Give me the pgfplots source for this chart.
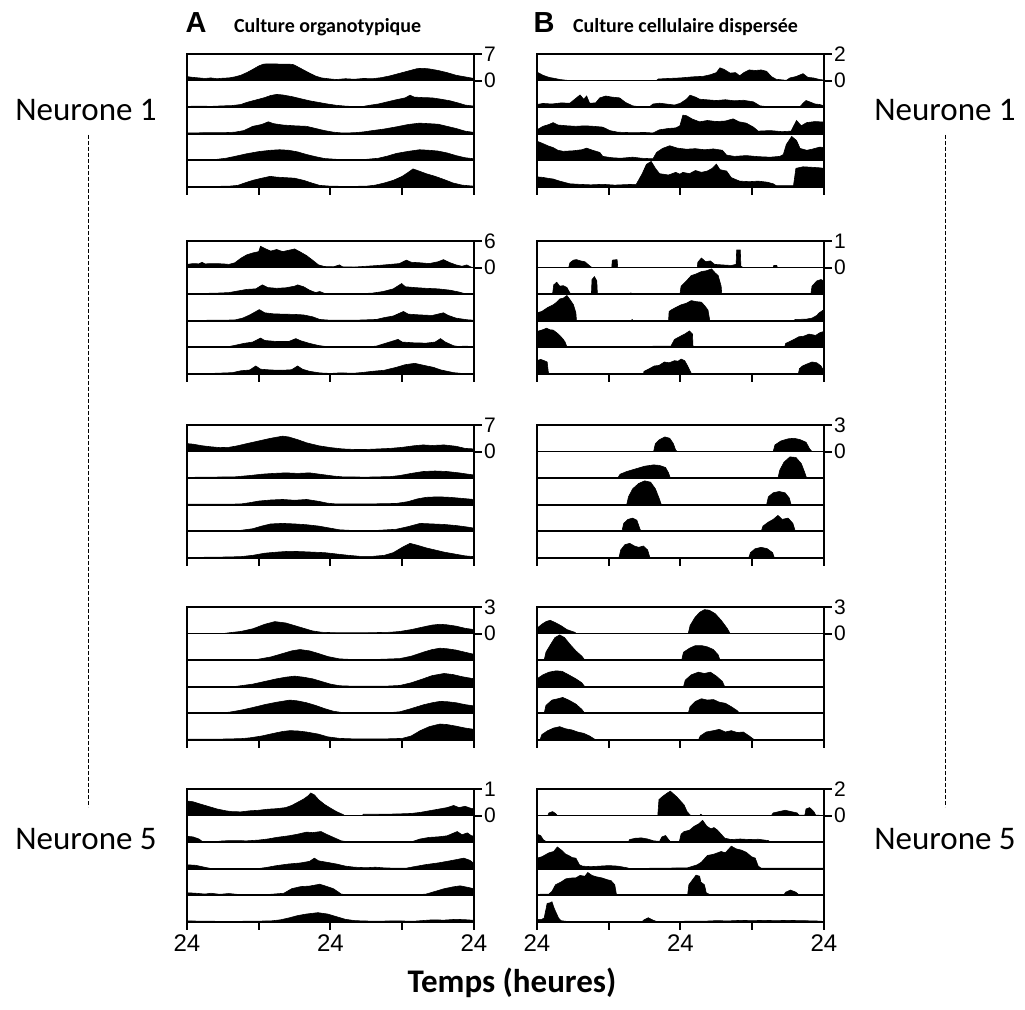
\documentclass[border=0pt]{standalone}
\usepackage{pgfplots}
\pgfplotsset{compat=1.18}
\usepackage{fontspec}
\setmainfont{Carlito}
\setsansfont{Liberation Sans}
\newcommand{\trace}[2]{\addplot[fill=black, draw=black, line width=0.3pt, y filter/.expression={y+#1}] coordinates {#2};}
\newcommand{\baselines}{%
\addplot[black, line width=0.9pt] coordinates {(0,1)(48,1)};
\addplot[black, line width=0.9pt] coordinates {(0,2)(48,2)};
\addplot[black, line width=0.9pt] coordinates {(0,3)(48,3)};
\addplot[black, line width=0.9pt] coordinates {(0,4)(48,4)};}
\pgfplotsset{
  panel/.style={
    scale only axis, width=143.5pt, height=66.5pt,
    xmin=0, xmax=48, ymin=0, ymax=5,
    axis line style={line width=1pt},
    xtick={0,12,24,36,48}, xticklabels={},
    xtick pos=left, ytick pos=right,
    ytick={4,5}, yticklabel pos=right,
    tick align=outside, major tick length=4pt,
    tick style={line width=1pt, black},
    tick label style={font=\sffamily\fontsize{10.5}{10.5}\selectfont},
    yticklabel style={xshift=-2.5pt},
    xticklabel style={yshift=1pt},
    /pgf/number format/assume math mode=true,
  },
  bottompanel/.style={panel, xticklabels={24,,24,,24},
    xticklabel style={font=\sffamily\fontsize{12}{12}\selectfont}},
}
\begin{document}
\begin{tikzpicture}
\begin{scope}[x=0.5pt, y=0.5pt]
\useasboundingbox (0,0) rectangle (1025,1010);
\end{scope}
% ---------------- Column A ----------------
\begin{axis}[panel, at={(93.5pt,411.5pt)}, anchor=south west, yticklabels={0,7}]
\trace{4}{(0,0)(0,0.15)(1,0.12)(2,0.1)(3,0.08)(4,0.1)(5,0.07)(6,0.09)(7,0.1)(8,0.14)(9,0.2)(10,0.3)(11,0.42)(12,0.55)(12.8,0.62)(14,0.63)(15.5,0.62)(17,0.62)(17.8,0.6)(18.5,0.52)(19.5,0.4)(20.5,0.28)(21.5,0.17)(22.5,0.1)(24,0.06)(25,0.04)(26.5,0.07)(28,0.05)(29.5,0.08)(31,0.07)(32.5,0.11)(34,0.18)(35.5,0.27)(37,0.36)(38.5,0.45)(39.5,0.46)(40.5,0.44)(42,0.38)(43.5,0.3)(45,0.2)(46.5,0.14)(47.5,0.1)(48,0.08)(48,0)}
\trace{3}{(0,0)(0,0.03)(2,0.04)(4,0.03)(6,0.05)(7.5,0.06)(9,0.1)(10,0.18)(11.5,0.27)(13,0.36)(14,0.44)(15,0.48)(16,0.46)(17.5,0.4)(19,0.32)(20.5,0.24)(22,0.18)(23.5,0.12)(25,0.07)(26.5,0.04)(28,0.02)(29.5,0.03)(30.5,0.07)(32,0.12)(33.5,0.2)(35,0.28)(36.5,0.35)(37.3,0.45)(38,0.38)(39.5,0.36)(41,0.35)(42.5,0.3)(44,0.24)(45.5,0.15)(46.5,0.08)(48,0.04)(48,0)}
\trace{2}{(0,0)(0,0.03)(3,0.04)(6,0.04)(8,0.06)(9.5,0.12)(11,0.28)(12.5,0.35)(13.6,0.45)(14.5,0.38)(16,0.33)(18,0.3)(20,0.28)(21.5,0.2)(23,0.12)(24.5,0.06)(26,0.03)(28,0.04)(29.5,0.07)(31,0.12)(33,0.18)(35,0.26)(37,0.35)(38.9,0.4)(40.5,0.38)(42,0.36)(43.5,0.28)(45,0.2)(46.5,0.1)(48,0.05)(48,0)}
\trace{1}{(0,0)(0,0.02)(3,0.02)(5,0.04)(6.5,0.08)(8,0.15)(10,0.25)(12,0.33)(14,0.38)(15.5,0.4)(17,0.38)(18.5,0.32)(20,0.22)(21.5,0.14)(23,0.07)(25,0.04)(28,0.03)(30,0.04)(32,0.08)(33.5,0.16)(35,0.26)(37,0.34)(38.9,0.4)(40.5,0.38)(42,0.35)(43.5,0.28)(45,0.18)(46.5,0.1)(48,0.06)(48,0)}
\trace{0}{(0,0)(0,0.02)(4,0.02)(7,0.03)(8.5,0.06)(9.5,0.14)(11,0.25)(12.5,0.33)(13.9,0.4)(15,0.37)(16.5,0.35)(18,0.33)(19.5,0.25)(21,0.14)(22.2,0.06)(24,0.03)(27,0.02)(30,0.03)(31.5,0.07)(33,0.15)(34.5,0.25)(36,0.4)(37,0.55)(37.8,0.68)(38.8,0.6)(40,0.5)(41.5,0.4)(43,0.28)(44.5,0.15)(46,0.07)(48,0.03)(48,0)}
\baselines
\end{axis}
\begin{axis}[panel, at={(93.5pt,318pt)}, anchor=south west, yticklabels={0,6}]
\trace{4}{(0,0)(0,0.12)(1,0.15)(2,0.14)(2.5,0.2)(3,0.14)(4.5,0.15)(6,0.14)(7,0.12)(8,0.18)(9,0.35)(10,0.48)(11,0.55)(12,0.6)(12.3,0.8)(13,0.72)(14,0.62)(15,0.68)(16,0.6)(17,0.65)(18,0.7)(19,0.58)(20,0.45)(21,0.28)(22,0.1)(23,0.04)(24.5,0.03)(25.5,0.1)(26,0.03)(28,0.02)(30,0.05)(32,0.08)(34,0.12)(35.5,0.15)(36.7,0.28)(37.5,0.2)(39,0.18)(40.5,0.15)(42,0.22)(42.9,0.3)(43.8,0.2)(45,0.1)(46,0.05)(46.8,0.1)(47.5,0.02)(48,0)}
\trace{3}{(0,0)(0,0.02)(3,0.03)(5,0.04)(7,0.06)(8.5,0.12)(10,0.18)(11.5,0.2)(12.6,0.35)(13.5,0.25)(15,0.22)(16.5,0.24)(18,0.3)(18.5,0.35)(19.5,0.28)(20.5,0.15)(21.5,0.06)(22.2,0.1)(23,0.03)(26,0.02)(29,0.02)(31,0.04)(32.8,0.1)(34.5,0.2)(35.9,0.4)(36.5,0.28)(38,0.25)(40,0.22)(42,0.2)(44,0.15)(45.5,0.08)(46.3,0.03)(48,0.02)(48,0)}
\trace{2}{(0,0)(0,0.01)(4,0.02)(8,0.03)(9.3,0.1)(10.5,0.22)(12.1,0.42)(13,0.3)(14.5,0.26)(16,0.25)(18,0.24)(19.5,0.22)(21,0.15)(22.2,0.05)(24,0.02)(28,0.02)(31.7,0.05)(33,0.12)(34.5,0.18)(36.2,0.35)(37,0.25)(39,0.22)(41,0.2)(42.9,0.3)(43.7,0.2)(45,0.1)(46.8,0.04)(48,0.02)(48,0)}
\trace{1}{(0,0)(0,0.02)(4,0.02)(7,0.03)(8.1,0.08)(9.5,0.15)(11,0.2)(12.3,0.35)(13,0.26)(15,0.22)(17,0.22)(18.2,0.33)(19,0.25)(20.5,0.15)(22,0.07)(23.3,0.03)(26,0.01)(30,0.01)(31.7,0.05)(33,0.14)(35.3,0.3)(36,0.2)(38,0.17)(40,0.16)(41.5,0.2)(42.4,0.33)(43.2,0.2)(44.6,0.06)(45.5,0.03)(46.5,0.05)(48,0.02)(48,0)}
\trace{0}{(0,0)(0,0.02)(4,0.02)(7.6,0.05)(9,0.12)(10.5,0.15)(11.5,0.3)(12.3,0.18)(14,0.15)(16,0.14)(17.5,0.16)(18.5,0.3)(19.3,0.18)(20.5,0.1)(22.2,0.04)(24,0.02)(25.5,0.04)(28,0.03)(29.5,0.06)(31,0.1)(33,0.14)(35,0.25)(36.5,0.35)(38.1,0.4)(39.5,0.33)(41.2,0.25)(42.5,0.15)(44.6,0.05)(46,0.02)(48,0.01)(48,0)}
\baselines
\end{axis}
\begin{axis}[panel, at={(93.5pt,226pt)}, anchor=south west, yticklabels={0,7}]
\trace{4}{(0,0)(0,0.3)(1,0.28)(2.5,0.22)(4,0.18)(5.5,0.15)(7,0.16)(8.5,0.22)(10,0.3)(12,0.4)(14,0.5)(16,0.58)(17,0.55)(18.5,0.45)(20,0.33)(22,0.22)(24,0.15)(26,0.1)(28,0.08)(30,0.08)(32,0.1)(34,0.12)(36,0.16)(38,0.22)(39.5,0.25)(41,0.23)(43,0.25)(45,0.2)(46.5,0.12)(48,0.1)(48,0)}
\trace{3}{(0,0)(0,0.03)(4,0.04)(8,0.05)(10.5,0.1)(12.5,0.15)(14.5,0.18)(16.5,0.2)(18.5,0.18)(20.5,0.2)(22.5,0.14)(24.5,0.08)(26,0.05)(30,0.04)(34,0.06)(35.6,0.1)(37.5,0.18)(39.5,0.25)(41.5,0.27)(43.5,0.25)(45.5,0.2)(47,0.15)(48,0.12)(48,0)}
\trace{2}{(0,0)(0,0.02)(5,0.02)(9,0.03)(10.5,0.08)(12,0.14)(14,0.18)(16,0.2)(18,0.17)(20,0.2)(22,0.13)(23.5,0.06)(25,0.03)(30,0.03)(35,0.05)(37,0.12)(38.5,0.22)(40,0.28)(42,0.3)(44,0.28)(46,0.24)(48,0.2)(48,0)}
\trace{1}{(0,0)(0,0.02)(5,0.02)(9,0.04)(11,0.1)(12.5,0.2)(14,0.28)(16,0.3)(18,0.28)(20,0.25)(22,0.2)(24,0.12)(25.5,0.06)(28,0.03)(32,0.04)(35,0.08)(37,0.18)(39,0.3)(41,0.28)(43,0.26)(45,0.22)(47,0.16)(48,0.12)(48,0)}
\trace{0}{(0,0)(0,0.02)(5,0.03)(9,0.05)(11,0.1)(13,0.18)(15,0.22)(17,0.25)(19,0.24)(21,0.22)(23,0.2)(25,0.15)(27,0.1)(29,0.06)(31,0.06)(33,0.1)(34.5,0.2)(36,0.4)(37.3,0.55)(38.5,0.48)(40,0.38)(41.5,0.3)(43,0.22)(45,0.14)(46.5,0.08)(48,0.05)(48,0)}
\baselines
\end{axis}
\begin{axis}[panel, at={(93.5pt,135pt)}, anchor=south west, yticklabels={0,3}]
\trace{4}{(0,0)(6,0)(7,0.03)(9,0.08)(11,0.18)(13,0.35)(14.7,0.45)(16.5,0.4)(18,0.3)(19.5,0.2)(21,0.1)(22.5,0.05)(25,0.03)(30,0.03)(34,0.05)(35.6,0.08)(37.5,0.15)(39.5,0.25)(41,0.32)(42.3,0.35)(43.5,0.33)(45,0.28)(46.5,0.2)(48,0.15)(48,0)}
\trace{3}{(0,0)(11,0)(12,0.04)(14,0.12)(16,0.25)(17.5,0.35)(18.9,0.4)(20.5,0.35)(22,0.25)(23.5,0.14)(25.5,0.05)(28,0.02)(32,0.03)(35.6,0.06)(37.5,0.15)(39.5,0.3)(41,0.4)(42.3,0.45)(43.5,0.43)(45,0.38)(46.5,0.3)(48,0.22)(48,0)}
\trace{2}{(0,0)(0,0.01)(8,0.01)(9,0.04)(11,0.1)(13,0.2)(15,0.3)(16.5,0.36)(18,0.4)(19.5,0.36)(21,0.3)(22.5,0.2)(24,0.1)(25.5,0.04)(28,0.02)(33,0.02)(35.6,0.05)(37.5,0.15)(39.5,0.3)(41,0.42)(43,0.5)(44.5,0.46)(46,0.38)(48,0.3)(48,0)}
\trace{1}{(0,0)(0,0.02)(6,0.02)(7.2,0.05)(9,0.12)(11,0.22)(13,0.33)(15,0.42)(17.2,0.5)(18.5,0.47)(20,0.4)(21.5,0.3)(23,0.18)(24.5,0.08)(26,0.03)(30,0.02)(34,0.03)(35.6,0.06)(37.5,0.18)(39.5,0.32)(41,0.4)(42.3,0.45)(43.5,0.44)(45,0.4)(46.5,0.33)(48,0.28)(48,0)}
\trace{0}{(0,0)(0,0.03)(5,0.03)(9,0.05)(10.5,0.08)(12.5,0.15)(14.5,0.25)(16,0.32)(17.2,0.35)(18.5,0.34)(20,0.3)(22,0.22)(23.5,0.12)(25.5,0.06)(28,0.04)(33,0.04)(36,0.06)(37.5,0.15)(39,0.35)(40.5,0.5)(42.3,0.6)(43.5,0.58)(45,0.52)(46.5,0.45)(48,0.4)(48,0)}
\baselines
\end{axis}
\begin{axis}[bottompanel, at={(93.5pt,44pt)}, anchor=south west, yticklabels={0,1}]
\trace{4}{(0,0)(0,0.55)(1,0.52)(2,0.45)(3.5,0.35)(5,0.25)(6.5,0.18)(7.5,0.15)(9,0.14)(10.5,0.18)(12,0.2)(13.5,0.24)(15,0.26)(16.5,0.3)(17.5,0.38)(18.5,0.5)(19.5,0.62)(20.3,0.75)(20.7,0.85)(21.3,0.78)(22,0.6)(23,0.42)(24,0.28)(25,0.15)(26,0.05)(26.4,0)(29.3,0)(29.5,0.05)(32,0.05)(35,0.06)(37.5,0.08)(39,0.12)(40.5,0.18)(42,0.24)(43.5,0.3)(44.6,0.38)(45.5,0.3)(46.5,0.35)(47.4,0.28)(48,0.25)(48,0)}
\trace{3}{(0,0)(0,0.22)(1,0.2)(2,0.12)(2.6,0.02)(4.8,0.02)(6,0.05)(8,0.06)(10,0.05)(12,0.08)(13.5,0.12)(15,0.18)(17,0.24)(18.5,0.3)(20,0.38)(21,0.36)(22.4,0.4)(23.3,0.3)(24.5,0.18)(25.8,0.05)(27,0.01)(34,0.01)(37.8,0.03)(39,0.12)(40.5,0.18)(42,0.2)(43.5,0.24)(45.2,0.4)(46,0.28)(46.9,0.35)(47.5,0.25)(48,0.22)(48,0)}
\trace{2}{(0,0)(0,0.15)(1.5,0.13)(3.1,0.05)(4,0.01)(12,0.01)(13.3,0.05)(15,0.12)(17,0.18)(19,0.22)(20.5,0.28)(21.3,0.4)(22,0.3)(23.5,0.24)(25,0.18)(26.5,0.1)(28,0.06)(30,0.04)(31.5,0.06)(33.2,0.03)(36.6,0.02)(38,0.08)(40,0.16)(42,0.22)(44,0.3)(46.3,0.4)(47.3,0.32)(48,0.2)(48,0)}
\trace{1}{(0,0)(0,0.1)(1.5,0.08)(3,0.05)(4,0.08)(5.5,0.04)(7,0.07)(8.8,0.03)(10,0.01)(12.8,0.02)(14.5,0.05)(16.2,0.08)(17.5,0.25)(19,0.33)(20.5,0.35)(22.2,0.42)(23.2,0.35)(24.5,0.25)(25.8,0.05)(27,0.01)(38,0.01)(40,0.05)(41.5,0.15)(43,0.25)(44.5,0.32)(45.7,0.36)(47,0.3)(48,0.25)(48,0)}
\trace{0}{(0,0)(0,0.04)(3,0.03)(7,0.02)(11,0.03)(14,0.04)(15.6,0.08)(17,0.15)(18.5,0.24)(20,0.3)(21.9,0.35)(23.5,0.3)(25,0.2)(26.5,0.1)(28.1,0.05)(31,0.03)(35,0.04)(38,0.03)(41,0.08)(43,0.07)(45,0.1)(47,0.08)(48,0.06)(48,0)}
\baselines
\end{axis}
% ---------------- Column B ----------------
\begin{axis}[panel, at={(268.5pt,411.5pt)}, anchor=south west, yticklabels={0,2}]
\trace{4}{(0,0)(0,0.32)(1,0.2)(2,0.12)(3,0.08)(3.8,0.04)(5,0.01)(20,0.01)(20.3,0.06)(22,0.08)(24,0.1)(26,0.14)(27.8,0.16)(29,0.22)(30,0.3)(30.6,0.48)(31.3,0.42)(32.3,0.28)(33.2,0.3)(33.9,0.18)(34.6,0.3)(35.5,0.4)(36.5,0.38)(37.5,0.4)(38.4,0.35)(39.2,0.15)(40,0.05)(41.7,0.01)(42.3,0.1)(43.3,0.15)(44.5,0.26)(45.3,0.12)(46.2,0.1)(47.3,0.04)(48,0.02)(48,0)}
\trace{3}{(0,0)(0,0.1)(1,0.14)(2.5,0.12)(4,0.16)(5.5,0.15)(6.6,0.35)(7.2,0.46)(7.8,0.3)(8.3,0.42)(8.8,0.15)(9.8,0.16)(10.5,0.35)(11.5,0.42)(12.5,0.38)(13.8,0.35)(14.8,0.18)(16,0.05)(17,0.02)(18.9,0.03)(19.4,0.12)(20.5,0.15)(21.6,0.12)(23,0.08)(24,0.15)(25,0.3)(25.6,0.45)(26.5,0.38)(27.2,0.3)(28.3,0.28)(30,0.25)(31.5,0.28)(33,0.24)(34.5,0.26)(36.2,0.2)(37.3,0.05)(38.5,0.02)(44,0.02)(44.5,0.15)(45,0.25)(45.6,0.2)(46.5,0.12)(47.3,0.1)(48,0.05)(48,0)}
\trace{2}{(0,0)(0,0.15)(1,0.28)(2,0.35)(2.7,0.42)(3.5,0.33)(5,0.3)(6.5,0.28)(8,0.3)(9.5,0.28)(11,0.25)(12.2,0.12)(13.5,0.06)(16,0.04)(18,0.05)(19.4,0.03)(20.5,0.15)(22,0.2)(23.2,0.22)(23.9,0.3)(24.4,0.7)(25,0.68)(26,0.55)(27.2,0.45)(28.5,0.5)(30,0.46)(31.5,0.48)(32.8,0.56)(33.8,0.45)(35,0.4)(36.2,0.25)(37,0.1)(39,0.12)(41,0.08)(42.5,0.1)(43.4,0.5)(44.2,0.3)(45.1,0.42)(46.5,0.46)(48,0.44)(48,0)}
\trace{1}{(0,0)(0,0.72)(0.8,0.65)(1.8,0.55)(2.7,0.48)(3.5,0.38)(4.4,0.34)(6,0.36)(7.5,0.4)(8.3,0.46)(9.3,0.38)(10.5,0.3)(11,0.15)(12.5,0.1)(14,0.08)(16,0.12)(17.5,0.08)(19.4,0.06)(20,0.3)(21,0.45)(22.2,0.55)(23.5,0.46)(25,0.42)(26.5,0.44)(28,0.4)(29.5,0.43)(31,0.38)(31.7,0.2)(33,0.15)(35,0.18)(37,0.14)(39,0.12)(40.6,0.15)(41.2,0.22)(41.7,0.6)(42.6,0.9)(43.4,0.75)(44,0.45)(45.1,0.38)(46,0.42)(47.3,0.5)(48,0.48)(48,0)}
\trace{0}{(0,0)(0,0.38)(1,0.36)(2,0.32)(2.7,0.3)(3.8,0.22)(5.5,0.12)(7,0.1)(9,0.08)(11,0.1)(13,0.07)(15,0.09)(16.6,0.1)(17.6,0.5)(18.3,0.85)(19.1,0.96)(19.8,0.7)(20.5,0.5)(22,0.45)(23.2,0.55)(23.9,0.48)(24.4,0.55)(25.5,0.5)(26.5,0.62)(27.5,0.55)(28.5,0.6)(29.3,0.7)(30,0.86)(30.6,0.65)(31.7,0.6)(32.5,0.35)(33.9,0.22)(35.5,0.2)(37,0.22)(38.5,0.18)(39.5,0.12)(40,0.05)(42.9,0.05)(43.3,0.7)(44.5,0.76)(46,0.74)(47.3,0.72)(48,0.7)(48,0)}
\baselines
\end{axis}
\begin{axis}[panel, at={(268.5pt,318pt)}, anchor=south west, yticklabels={0,1}]
\trace{4}{(0,0)(5.3,0)(5.5,0.18)(6.1,0.28)(6.6,0.3)(7.3,0.25)(8,0.22)(8.9,0.05)(9.2,0)(12.5,0)(12.6,0.28)(13.4,0.3)(13.5,0)(26.8,0)(26.9,0.2)(27.5,0.36)(28.2,0.22)(29,0.25)(29.7,0.12)(31,0.1)(32.5,0.08)(33.3,0.12)(33.4,0.66)(34,0.66)(34.1,0.05)(34.5,0)(39.5,0)(39.6,0.08)(40.1,0.08)(40.2,0)(48,0)}
\trace{3}{(0,0)(2.6,0)(2.8,0.35)(3.3,0.45)(3.8,0.3)(4.4,0.32)(5,0.25)(5.5,0.05)(5.7,0)(9.1,0)(9.2,0.55)(9.6,0.66)(10,0.5)(10.1,0)(15.5,0)(15.7,0.05)(16,0)(23.9,0)(24.1,0.3)(25,0.5)(25.8,0.7)(26.5,0.75)(27.5,0.85)(28.3,0.88)(29.2,0.95)(29.8,0.8)(30.3,0.7)(30.8,0.3)(30.9,0)(45.8,0)(46,0.3)(46.8,0.5)(47.5,0.55)(48,0.5)(48,0)}
\trace{2}{(0,0)(0,0.3)(0.8,0.35)(1.8,0.5)(2.7,0.6)(3.3,0.7)(3.8,0.82)(4.4,0.85)(5,0.95)(5.5,0.8)(6.1,0.6)(6.5,0.3)(6.6,0)(15.8,0)(15.9,0.05)(16.1,0)(22,0)(22.1,0.35)(22.4,0.4)(23.2,0.5)(24.1,0.6)(25,0.66)(25.8,0.76)(26.6,0.72)(27.5,0.7)(28.1,0.55)(28.6,0.4)(28.9,0)(42.9,0)(43.2,0.05)(45,0.06)(46,0.1)(46.8,0.2)(47.2,0.3)(48,0.42)(48,0)}
\trace{1}{(0,0)(0,0.6)(0.8,0.65)(1.6,0.72)(2.2,0.66)(2.7,0.65)(3.3,0.55)(3.8,0.45)(4.4,0.3)(4.7,0.2)(5,0.02)(13.3,0.02)(13.5,0)(19.3,0)(19.4,0.05)(22.4,0.05)(23,0.3)(24,0.42)(24.7,0.5)(25.5,0.62)(26,0.5)(26.1,0)(41.4,0)(41.6,0.15)(42.1,0.2)(43,0.3)(43.8,0.4)(44.6,0.42)(45.5,0.5)(46.6,0.45)(47.3,0.55)(48,0.6)(48,0)}
\trace{0}{(0,0)(0,0.5)(0.6,0.55)(1.2,0.5)(1.7,0.45)(1.9,0.05)(2.1,0)(17.8,0)(17.9,0.1)(18.8,0.2)(19.6,0.3)(20.4,0.32)(21.3,0.45)(22.1,0.42)(23,0.5)(23.6,0.48)(24.1,0.56)(24.7,0.5)(25.2,0.3)(25.8,0.02)(26,0)(43.7,0)(43.9,0.2)(44.4,0.3)(45.2,0.38)(46,0.45)(46.8,0.42)(47.5,0.3)(48,0.1)(48,0)}
\baselines
\end{axis}
\begin{axis}[panel, at={(268.5pt,226pt)}, anchor=south west, yticklabels={0,3}]
\trace{4}{(0,0)(19.5,0)(19.8,0.3)(20.5,0.45)(21.4,0.55)(22.2,0.5)(22.8,0.3)(23.2,0.05)(23.5,0)(39.5,0)(39.8,0.25)(40.8,0.4)(42,0.48)(43,0.5)(44,0.45)(45,0.35)(45.6,0.1)(46,0)(48,0)}
\trace{3}{(0,0)(13.5,0)(13.9,0.15)(15,0.25)(16.5,0.35)(18,0.45)(19.5,0.5)(20.5,0.48)(21.5,0.4)(22,0.2)(22.3,0)(40.3,0)(40.6,0.3)(41.3,0.6)(42.3,0.8)(43.3,0.78)(44.2,0.55)(44.8,0.2)(45.1,0)(48,0)}
\trace{2}{(0,0)(15,0)(15.3,0.3)(16,0.6)(17,0.8)(18,0.9)(19,0.85)(19.8,0.6)(20.5,0.2)(20.8,0)(38.4,0)(38.7,0.3)(39.5,0.45)(40.5,0.5)(41.5,0.45)(42.2,0.25)(42.5,0)(48,0)}
\trace{1}{(0,0)(14.2,0)(14.5,0.3)(15.2,0.45)(16,0.5)(16.7,0.42)(17.2,0.1)(17.4,0)(37.5,0)(37.8,0.2)(38.7,0.35)(39.5,0.45)(40.3,0.6)(41,0.45)(42,0.5)(42.8,0.3)(43.2,0)(48,0)}
\trace{0}{(0,0)(13.7,0)(14,0.3)(14.7,0.5)(15.5,0.55)(16.3,0.45)(17,0.4)(17.8,0.45)(18.5,0.3)(18.9,0)(35.4,0)(35.7,0.2)(36.5,0.35)(37.5,0.4)(38.5,0.35)(39.4,0.2)(39.7,0)(48,0)}
\baselines
\end{axis}
\begin{axis}[panel, at={(268.5pt,135pt)}, anchor=south west, yticklabels={0,3}]
\trace{4}{(0,0)(0,0.2)(0.8,0.35)(1.5,0.45)(2.2,0.5)(3,0.42)(4,0.3)(5,0.15)(6.3,0.05)(6.6,0)(25.3,0)(25.6,0.3)(26.4,0.6)(27.2,0.8)(28,0.9)(28.8,0.88)(29.8,0.75)(30.8,0.5)(31.8,0.2)(32.3,0)(48,0)}
\trace{3}{(0,0)(1.2,0)(1.5,0.3)(2.3,0.6)(3,0.85)(3.8,0.95)(4.6,0.85)(5.5,0.6)(6.5,0.35)(7.5,0.15)(8,0)(24.2,0)(24.5,0.3)(25.5,0.45)(26.5,0.55)(27.5,0.55)(28.5,0.5)(29.5,0.4)(30.3,0.2)(30.6,0)(48,0)}
\trace{2}{(0,0)(0,0.3)(1,0.45)(2,0.55)(3.2,0.6)(4.2,0.58)(5.3,0.45)(6.5,0.3)(7.5,0.15)(8,0)(24.5,0)(24.8,0.25)(25.8,0.45)(27,0.55)(28,0.5)(29,0.55)(30,0.4)(31,0.2)(31.4,0)(48,0)}
\trace{1}{(0,0)(1.2,0)(1.5,0.3)(2.5,0.5)(3.5,0.55)(4.3,0.6)(5.3,0.5)(6.5,0.35)(7.5,0.15)(8,0)(25.3,0)(25.6,0.25)(26.5,0.45)(27.5,0.55)(28.5,0.5)(29.5,0.52)(30.5,0.42)(31.5,0.38)(32.5,0.25)(33.5,0.1)(33.9,0)(48,0)}
\trace{0}{(0,0)(0.5,0)(0.8,0.2)(1.8,0.35)(2.8,0.45)(3.8,0.5)(4.8,0.42)(5.8,0.38)(6.8,0.3)(7.8,0.25)(8.8,0.15)(9.7,0.02)(10,0)(27,0)(27.3,0.15)(28.3,0.3)(29.5,0.35)(30.5,0.4)(31.5,0.3)(32.5,0.35)(33.5,0.28)(34.5,0.3)(35.5,0.15)(36.4,0)(48,0)}
\baselines
\end{axis}
\begin{axis}[bottompanel, at={(268.5pt,44pt)}, anchor=south west, yticklabels={0,2}]
\trace{4}{(0,0)(1.8,0)(2,0.1)(2.6,0.15)(3.1,0.08)(3.4,0)(20.2,0)(20.4,0.6)(21,0.72)(21.8,0.85)(22.3,0.92)(22.9,0.8)(23.4,0.7)(24,0.55)(24.6,0.4)(25.1,0.15)(25.7,0)(27.2,0)(27.4,0.05)(27.7,0)(39.2,0)(39.5,0.1)(40.5,0.15)(41.5,0.2)(42.5,0.15)(43.5,0.1)(43.8,0.02)(44.8,0.02)(45,0.25)(45.6,0.3)(46.3,0.15)(46.6,0.02)(48,0)}
\trace{3}{(0,0)(0,0.3)(0.6,0.25)(1.1,0.08)(1.5,0.03)(3,0.02)(5,0.01)(15.3,0.01)(15.5,0.1)(16.5,0.15)(17.5,0.16)(18.5,0.12)(19.5,0.05)(20.5,0.03)(20.9,0.2)(21.5,0.25)(22,0.1)(22.3,0.02)(23.8,0.02)(24.1,0.3)(24.6,0.4)(25.5,0.45)(26.3,0.6)(27,0.68)(27.7,0.82)(28.4,0.6)(29.1,0.5)(29.6,0.55)(30.2,0.45)(30.8,0.3)(31.4,0.15)(32.5,0.1)(34,0.12)(35.5,0.1)(37,0.11)(38.7,0.06)(39,0.01)(48,0.01)(48,0)}
\trace{2}{(0,0)(0,0.4)(0.8,0.45)(2,0.6)(2.8,0.65)(3.4,0.82)(4.1,0.7)(4.8,0.55)(5.3,0.5)(5.9,0.42)(6.5,0.4)(7.1,0.15)(7.6,0.1)(9,0.08)(10.5,0.1)(12,0.12)(13.5,0.1)(15,0.04)(15.5,0.01)(23.4,0.03)(25.1,0.03)(26.8,0.15)(27.5,0.25)(28.5,0.5)(29.6,0.55)(30.8,0.65)(31.5,0.6)(32.5,0.85)(33.3,0.75)(34.2,0.7)(35,0.62)(35.9,0.45)(36.5,0.4)(37,0.1)(37.5,0.02)(48,0.02)(48,0)}
\trace{1}{(0,0)(0,0.03)(1,0.05)(2,0.05)(2.5,0.15)(3.1,0.4)(4,0.5)(4.8,0.62)(5.6,0.65)(6.5,0.66)(7.2,0.75)(8,0.72)(8.5,0.86)(9.2,0.75)(9.9,0.7)(10.8,0.66)(11.6,0.6)(12.4,0.55)(13,0.4)(13.3,0.02)(17,0.02)(17.3,0.03)(25.2,0.03)(25.4,0.4)(25.9,0.55)(26.6,0.76)(27.2,0.72)(27.4,0.5)(28,0.4)(28.3,0.1)(29,0.02)(41.3,0.02)(41.6,0.12)(42.4,0.2)(43.3,0.12)(43.8,0.02)(48,0.02)(48,0)}
\trace{0}{(0,0)(0,0.1)(0.8,0.1)(1.2,0.15)(1.7,0.7)(2.2,0.72)(2.5,0.76)(2.9,0.5)(3.1,0.4)(3.6,0.15)(4,0.05)(5,0.02)(17.6,0.02)(17.9,0.08)(18.6,0.16)(19.5,0.06)(20,0.02)(28,0.03)(30,0.05)(32,0.04)(34,0.06)(36,0.05)(38,0.06)(40,0.05)(42,0.06)(44,0.05)(46.6,0.04)(48,0.02)(48,0)}
\baselines
\end{axis}
% ---------------- Labels ----------------
\begin{scope}[x=0.5pt, y=0.5pt]
\node[font=\sffamily\bfseries\fontsize{14.5}{14.5}\selectfont] at (196,987) {A};
\node[anchor=west, font=\bfseries\fontsize{10}{10}\selectfont] at (227,983) {Culture organotypique};
\node[font=\sffamily\bfseries\fontsize{14.5}{14.5}\selectfont] at (544,987) {B};
\node[anchor=west, font=\bfseries\fontsize{10}{10}\selectfont] at (566,983) {Culture cellulaire dispersée};
\node[anchor=base, font=\fontsize{16.5}{16.5}\selectfont] at (86,889) {Neurone 1};
\node[anchor=base, font=\fontsize{16.5}{16.5}\selectfont] at (945,889) {Neurone 1};
\node[anchor=base, font=\fontsize{16.5}{16.5}\selectfont] at (86,160) {Neurone 5};
\node[anchor=base, font=\fontsize{16.5}{16.5}\selectfont] at (945,160) {Neurone 5};
\draw[line width=0.5pt, dash pattern=on 2pt off 1pt] (88,875) -- (88,203);
\draw[line width=0.5pt, dash pattern=on 2pt off 1pt] (945,875) -- (945,203);
\node[anchor=base, font=\bfseries\fontsize{16.5}{16.5}\selectfont] at (512,17) {Temps (heures)};
\end{scope}
\end{tikzpicture}
\end{document}
